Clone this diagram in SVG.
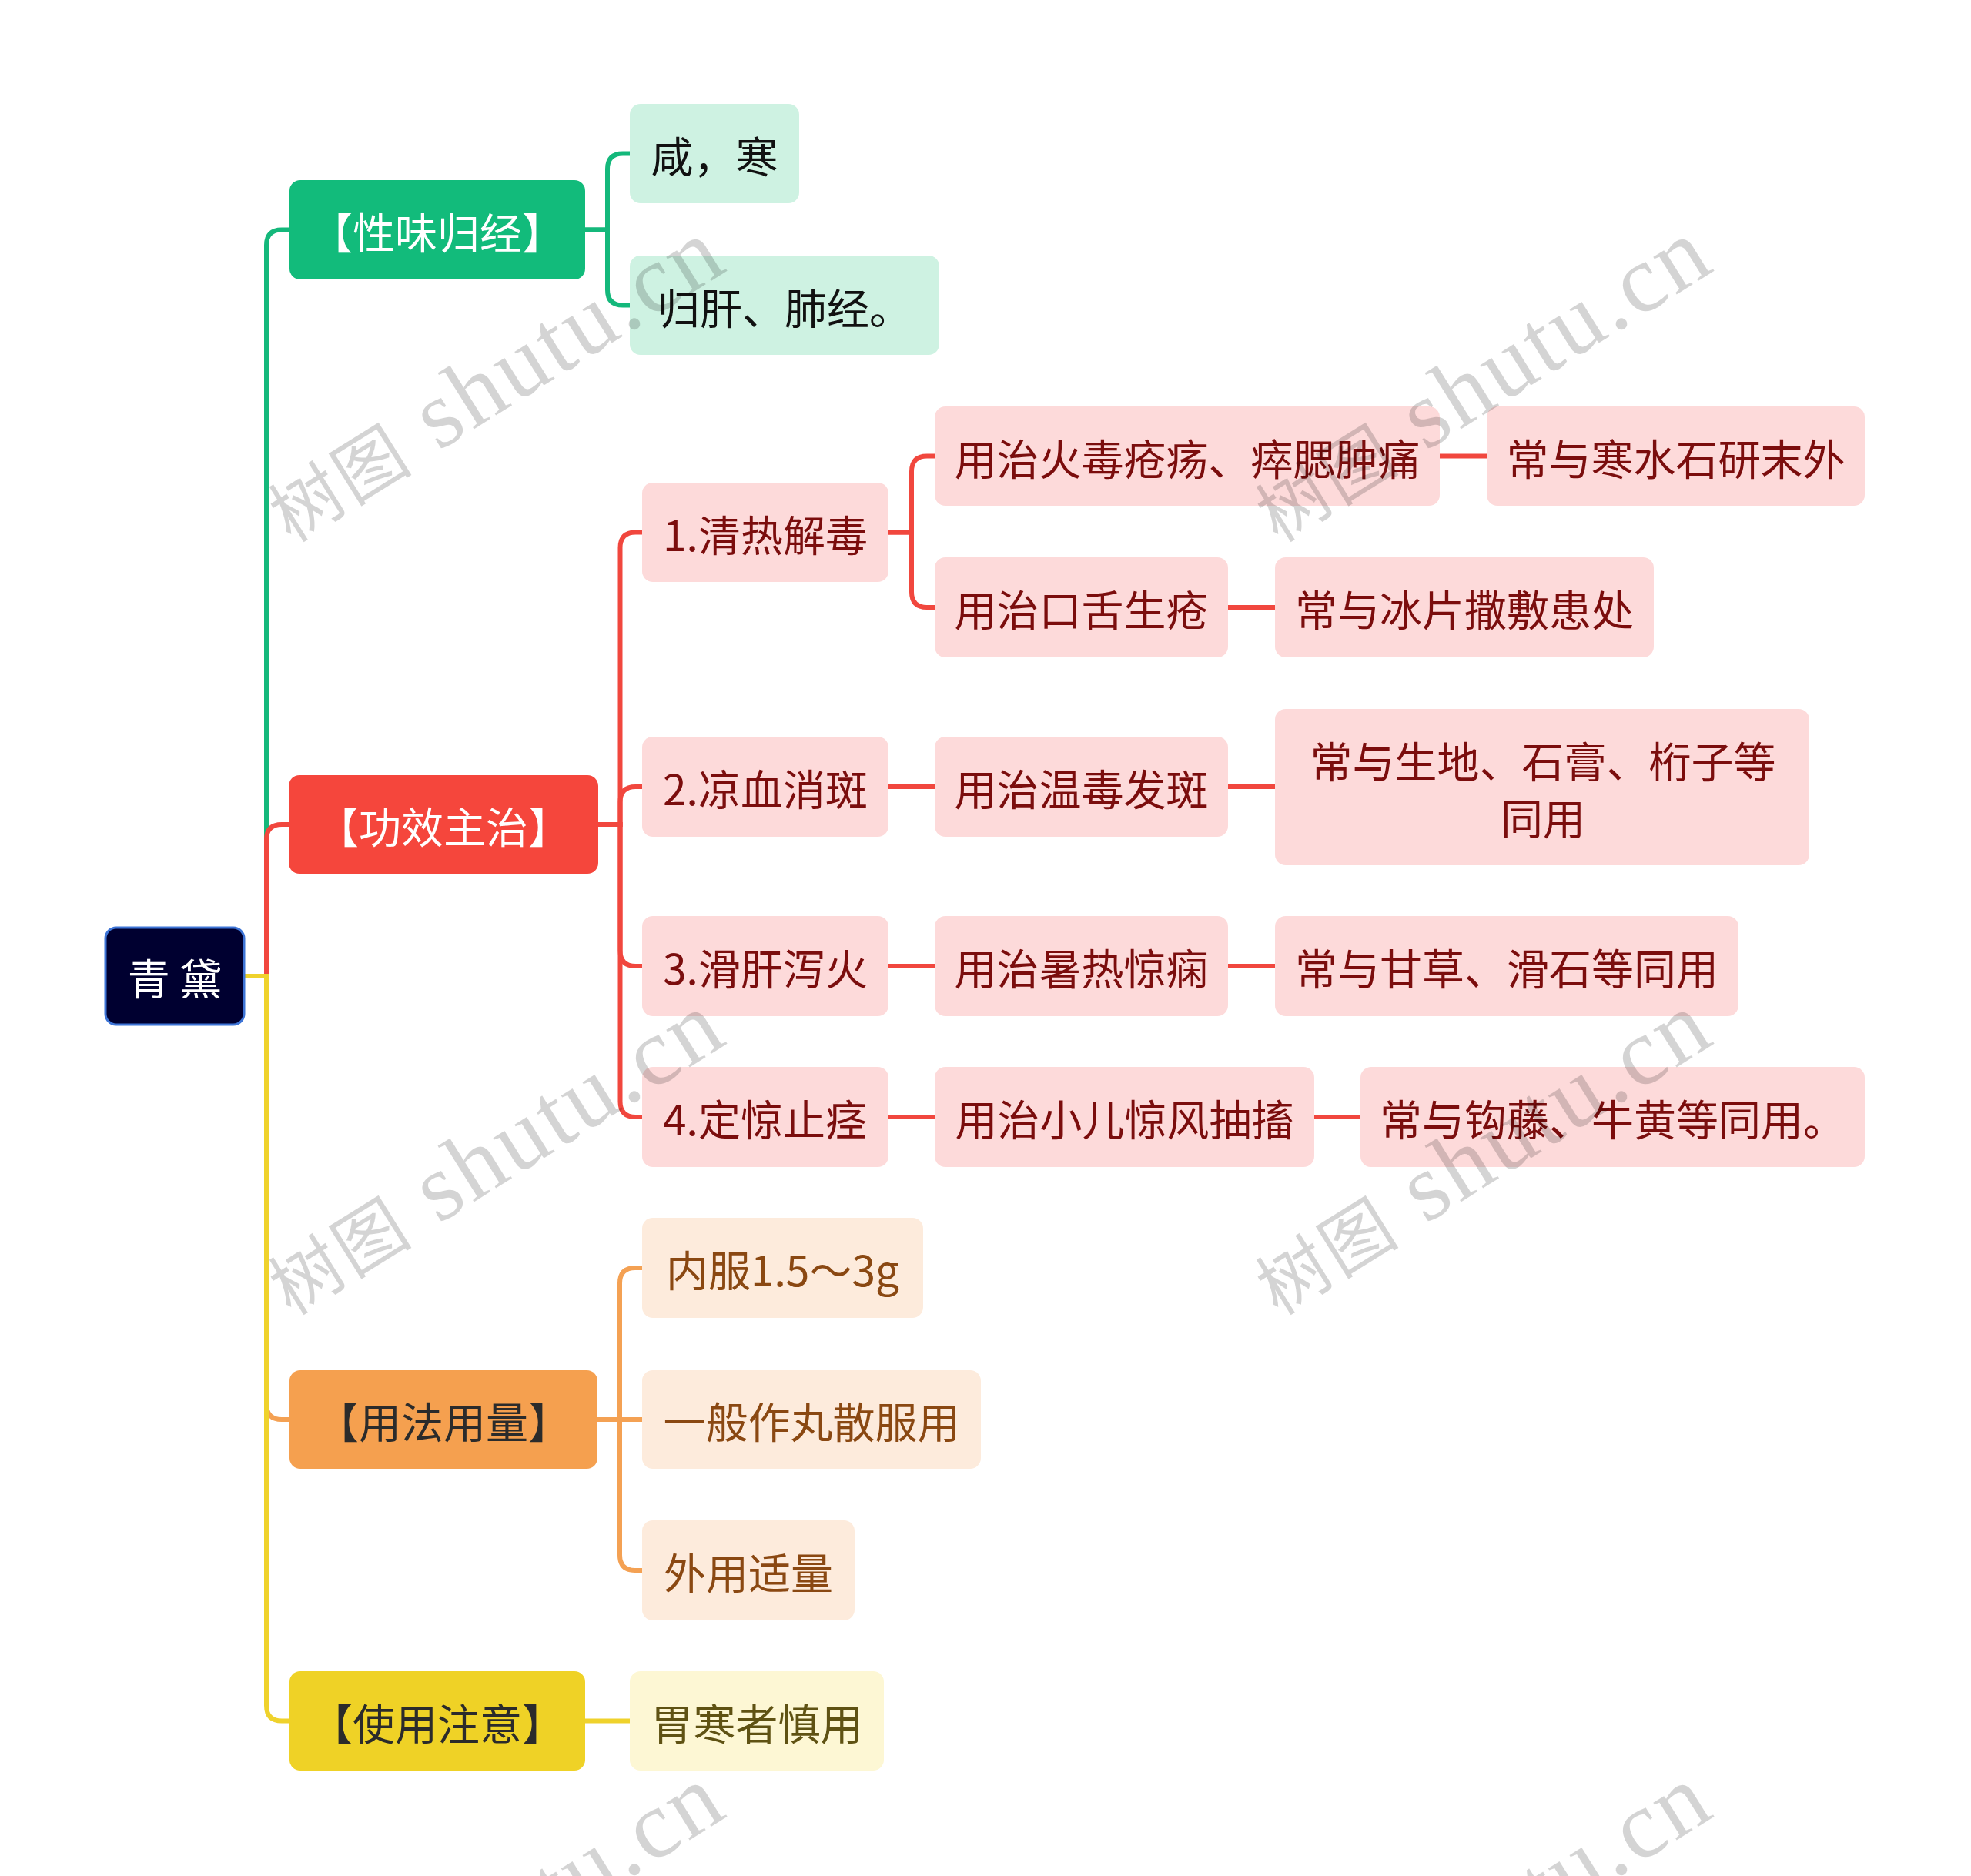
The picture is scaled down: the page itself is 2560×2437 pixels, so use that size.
<svg xmlns="http://www.w3.org/2000/svg" width="2560" height="2437" viewBox="0 0 2560 2437">
<style>
text{font-family:"Noto Sans CJK SC","Noto Sans",sans-serif;font-size:55px;text-anchor:middle;dominant-baseline:central}
.l{fill:none;stroke-width:6}
.g{stroke:#14b87b}.r{stroke:#f1473e}.o{stroke:#f4a153}.y{stroke:#efd22c}
.wm{font-family:"Liberation Serif","Noto Sans CJK SC",serif;fill:#000;fill-opacity:0.17;text-anchor:start;dominant-baseline:auto}
.p{fill:#fddada}.pt{fill:#7b0d0d}
.m{fill:#cef2e2}.mt{fill:#111}
.c{fill:#fdebdc}.ct{fill:#8a4812}
.v{fill:#fdf7d4}.vt{fill:#5f5213}
</style>
<g id="connectors">
<path class="l g" d="M317,1268 H346 V318.5 Q346,298.5 366,298.5 H376"/>
<path class="l r" d="M317,1268 H346 V1091 Q346,1071 366,1071 H375"/>
<path class="l o" d="M317,1268 H346 V1824 Q346,1844 366,1844 H376"/>
<path class="l y" d="M317,1268 H346 V2215.5 Q346,2235.5 366,2235.5 H376"/>
<path class="l g" d="M760,298.5 H789 V219.5 Q789,199.5 809,199.5 H818"/>
<path class="l g" d="M760,298.5 H789 V376.5 Q789,396.5 809,396.5 H818"/>
<path class="l r" d="M777,1071 H805.5 V711.5 Q805.5,691.5 825.5,691.5 H834"/>
<path class="l r" d="M777,1071 H805.5 V1042 Q805.5,1022 825.5,1022 H834"/>
<path class="l r" d="M777,1071 H805.5 V1235 Q805.5,1255 825.5,1255 H834"/>
<path class="l r" d="M777,1071 H805.5 V1431 Q805.5,1451 825.5,1451 H834"/>
<path class="l r" d="M1154,691.5 H1184 V612.5 Q1184,592.5 1204,592.5 H1214"/>
<path class="l r" d="M1154,691.5 H1184 V769 Q1184,789 1204,789 H1214"/>
<path class="l r" d="M1154,1022 H1214 M1154,1255 H1214 M1154,1451 H1214"/>
<path class="l r" d="M1870,592.5 H1931 M1595,789 H1656 M1595,1022 H1656 M1595,1255 H1656 M1707,1451 H1767"/>
<path class="l o" d="M776,1844 H805 V1667 Q805,1647 825,1647 H834"/>
<path class="l o" d="M776,1844 H834"/>
<path class="l o" d="M776,1844 H805 V2020 Q805,2040 825,2040 H834"/>
<path class="l y" d="M760,2235.5 H818"/>
</g>
<g id="root"><rect x="137" y="1205" width="180" height="126" rx="14" fill="#000030" stroke="#3d74d6" stroke-width="3"/><text x="227" y="1268" font-size="56" fill="#fff">青 黛</text></g>
<g id="n1"><rect x="376" y="234" width="384" height="129" rx="14" fill="#12bb7b"/><text x="568" y="298.5" fill="#fff">【性味归经】</text></g>
<g id="n1a"><rect class="m" x="818" y="135" width="220" height="129" rx="14"/><text class="mt" x="928" y="199.5">咸，寒</text></g>
<g id="n1b"><rect class="m" x="818" y="332" width="402" height="129" rx="14"/><text class="mt" x="1019" y="396.5">归肝、肺经。</text></g>
<g id="n2"><rect x="375" y="1007" width="402" height="128" rx="14" fill="#f5463c"/><text x="576" y="1071" fill="#fff">【功效主治】</text></g>
<g id="n2a"><rect class="p" x="834" y="627" width="320" height="129" rx="14"/><text class="pt" x="994" y="691.5">1.清热解毒</text></g>
<g id="n2a1"><rect class="p" x="1214" y="528" width="656" height="129" rx="14"/><text class="pt" x="1542" y="592.5">用治火毒疮疡、瘁腮肿痛</text></g>
<g id="n2a1x"><rect class="p" x="1931" y="528" width="491" height="129" rx="14"/><text class="pt" x="2176.5" y="592.5">常与寒水石研末外</text></g>
<g id="n2a2"><rect class="p" x="1214" y="724" width="381" height="130" rx="14"/><text class="pt" x="1404.5" y="789">用治口舌生疮</text></g>
<g id="n2a2x"><rect class="p" x="1656" y="724" width="492" height="130" rx="14"/><text class="pt" x="1902" y="789">常与冰片撒敷患处</text></g>
<g id="n2b"><rect class="p" x="834" y="957" width="320" height="130" rx="14"/><text class="pt" x="994" y="1022">2.凉血消斑</text></g>
<g id="n2b1"><rect class="p" x="1214" y="957" width="381" height="130" rx="14"/><text class="pt" x="1404.5" y="1022">用治温毒发斑</text></g>
<g id="n2b1x"><rect class="p" x="1656" y="921" width="694" height="203" rx="14"/><text class="pt" x="2004" y="986">常与生地、石膏、桁子等</text><text class="pt" x="2004" y="1060">同用</text></g>
<g id="n2c"><rect class="p" x="834" y="1190" width="320" height="130" rx="14"/><text class="pt" x="994" y="1255">3.滑肝泻火</text></g>
<g id="n2c1"><rect class="p" x="1214" y="1190" width="381" height="130" rx="14"/><text class="pt" x="1404.5" y="1255">用治暑热惊痫</text></g>
<g id="n2c1x"><rect class="p" x="1656" y="1190" width="602" height="130" rx="14"/><text class="pt" x="1957" y="1255">常与甘草、滑石等同用</text></g>
<g id="n2d"><rect class="p" x="834" y="1386" width="320" height="130" rx="14"/><text class="pt" x="994" y="1451">4.定惊止痉</text></g>
<g id="n2d1"><rect class="p" x="1214" y="1386" width="493" height="130" rx="14"/><text class="pt" x="1460.5" y="1451">用治小儿惊风抽搐</text></g>
<g id="n2d1x"><rect class="p" x="1767" y="1386" width="655" height="130" rx="14"/><text class="pt" x="2094.5" y="1451">常与钩藤、牛黄等同用。</text></g>
<g id="n3"><rect x="376" y="1780" width="400" height="128" rx="14" fill="#f5a04f"/><text x="576" y="1844" fill="#2b2b2b">【用法用量】</text></g>
<g id="n3a"><rect class="c" x="834" y="1582" width="365" height="130" rx="14"/><text class="ct" x="1016.5" y="1647">内服1.5～3g</text></g>
<g id="n3b"><rect class="c" x="834" y="1780" width="440" height="128" rx="14"/><text class="ct" x="1054" y="1844">一般作丸散服用</text></g>
<g id="n3c"><rect class="c" x="834" y="1975" width="276" height="130" rx="14"/><text class="ct" x="972" y="2040">外用适量</text></g>
<g id="n4"><rect x="376" y="2171" width="384" height="129" rx="14" fill="#efd226"/><text x="568" y="2235.5" fill="#2b2b2b">【使用注意】</text></g>
<g id="n4a"><rect class="v" x="818" y="2171" width="330" height="129" rx="14"/><text class="vt" x="983" y="2235.5">胃寒者慎用</text></g>
<g id="watermark">
<text class="wm" transform="translate(378,706) rotate(-32)" textLength="670"><tspan font-size="92">树图</tspan><tspan font-size="125"> shutu.cn</tspan></text>
<text class="wm" transform="translate(1660,706) rotate(-32)" textLength="670"><tspan font-size="92">树图</tspan><tspan font-size="125"> shutu.cn</tspan></text>
<text class="wm" transform="translate(378,1710) rotate(-32)" textLength="670"><tspan font-size="92">树图</tspan><tspan font-size="125"> shutu.cn</tspan></text>
<text class="wm" transform="translate(1660,1710) rotate(-32)" textLength="670"><tspan font-size="92">树图</tspan><tspan font-size="125"> shutu.cn</tspan></text>
<text class="wm" transform="translate(378,2714) rotate(-32)" textLength="670"><tspan font-size="92">树图</tspan><tspan font-size="125"> shutu.cn</tspan></text>
<text class="wm" transform="translate(1660,2714) rotate(-32)" textLength="670"><tspan font-size="92">树图</tspan><tspan font-size="125"> shutu.cn</tspan></text>
</g>
</svg>
